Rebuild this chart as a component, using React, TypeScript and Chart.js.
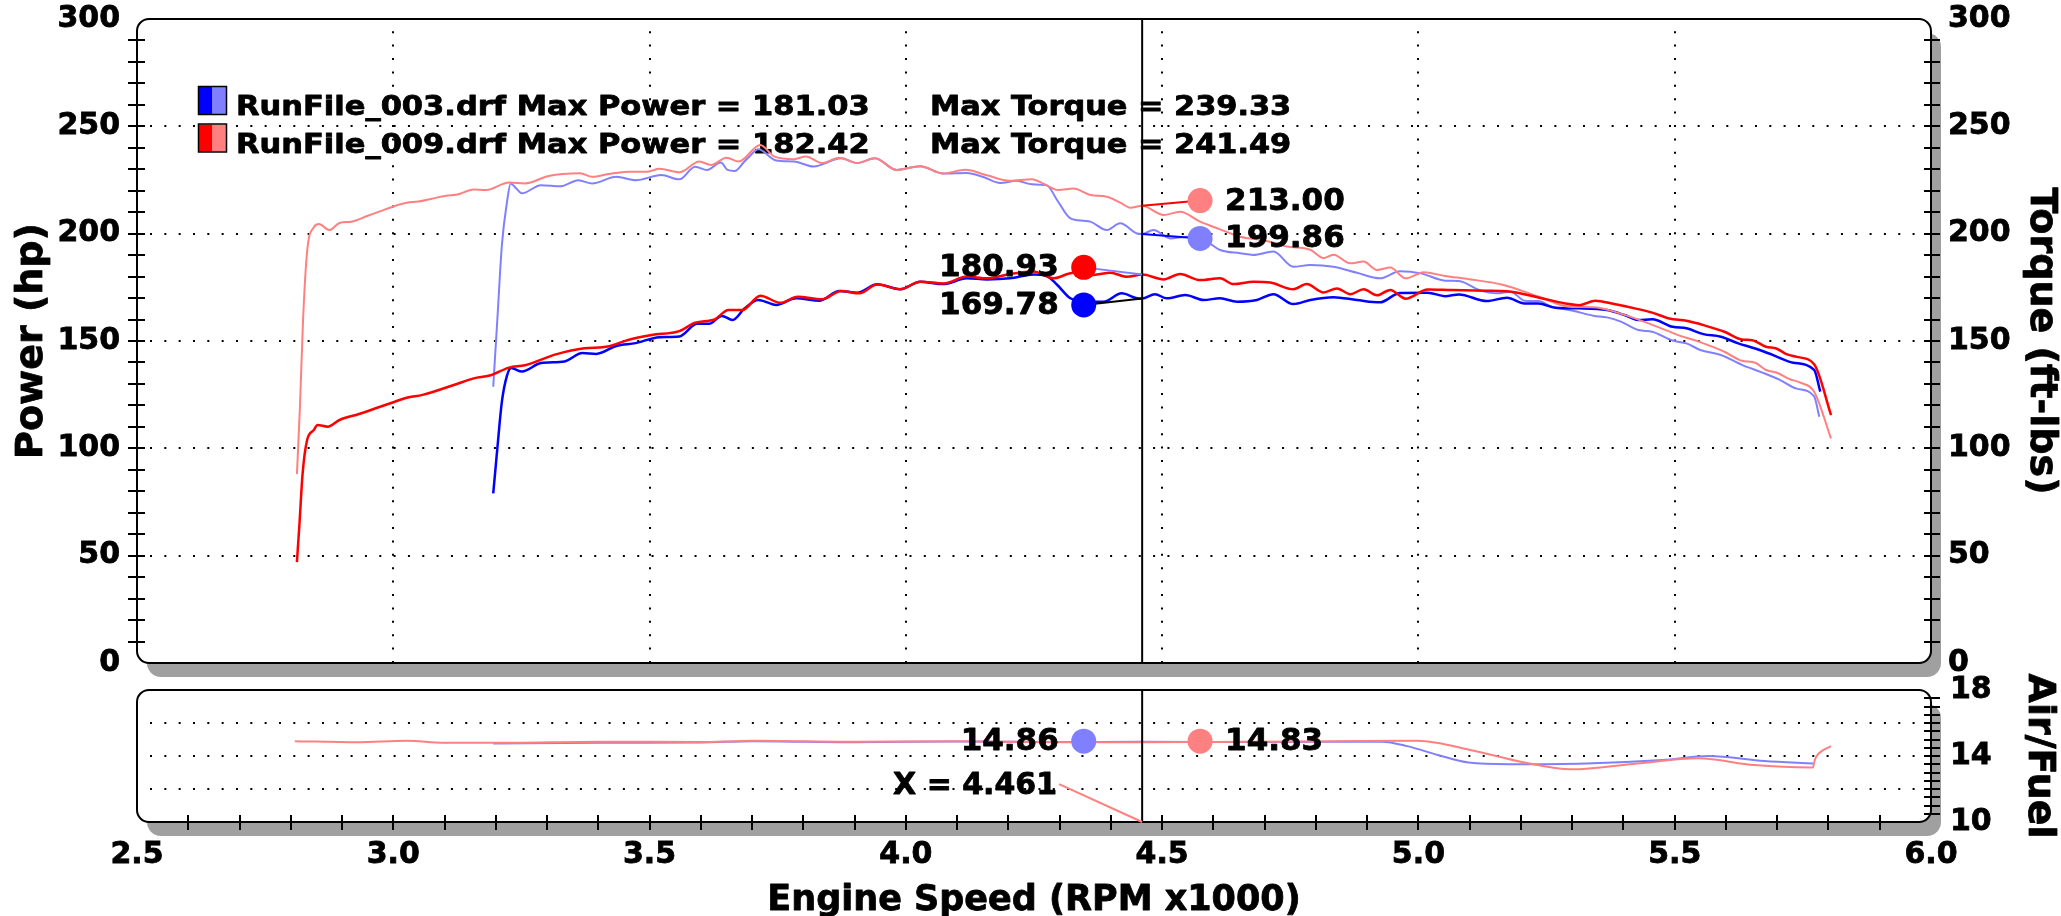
import React, { useEffect, useRef } from 'react';
import { Chart, registerables } from 'chart.js';

Chart.register(...registerables);

// ---------------- data ----------------
const runNames = ['RunFile_003.drf', 'RunFile_009.drf'];
const maxPowerText = ['181.03', '182.42'];
const maxTorqueText = ['239.33', '241.49'];

// Run 003 (blue) power, hp
const rpm003Hp = [3.195, 3.203, 3.212, 3.222, 3.23, 3.251, 3.288, 3.334, 3.369, 3.396, 3.435, 3.473, 3.519, 3.558, 3.593, 3.616, 3.641, 3.662, 3.685, 3.712, 3.747, 3.786, 3.832, 3.87, 3.905, 3.944, 3.989, 4.028, 4.073, 4.119, 4.158, 4.203, 4.249, 4.275, 4.295, 4.321, 4.353, 4.386, 4.421, 4.451, 4.461, 4.486, 4.509, 4.545, 4.581, 4.613, 4.646, 4.685, 4.717, 4.756, 4.789, 4.834, 4.88, 4.925, 4.964, 5.018, 5.052, 5.079, 5.133, 5.173, 5.207, 5.234, 5.267, 5.314, 5.368, 5.402, 5.429, 5.456, 5.496, 5.523, 5.556, 5.59, 5.624, 5.657, 5.691, 5.731, 5.772, 5.784];
const hp003 = [79, 100, 122, 134, 137.4, 135.8, 139.7, 140.5, 144.4, 144, 147.7, 149, 151.8, 152.1, 158, 158, 161.7, 159.8, 165.1, 169.1, 166.8, 169.9, 168.8, 173.3, 172.5, 176.4, 174.1, 177.6, 176.5, 179.2, 178.7, 179.2, 181.0, 180.3, 176.2, 169.9, 168.3, 168.3, 172.2, 169.9, 169.78, 171.8, 169.9, 171.4, 169.1, 169.9, 168.3, 169.1, 171.8, 167.2, 169.1, 170.4, 169.1, 168, 172.4, 172.5, 170.9, 171.7, 168.6, 170.2, 167.5, 167.5, 165.5, 165.2, 164.4, 162.1, 159.8, 160.1, 156.6, 155.9, 153.2, 152, 148.9, 146.5, 143.5, 139.9, 136.5, 126.4];

// Run 003 (light blue) torque, ft-lbs
const rpm003Tq = [3.195, 3.203, 3.212, 3.222, 3.229, 3.24, 3.251, 3.288, 3.327, 3.361, 3.388, 3.435, 3.473, 3.523, 3.558, 3.589, 3.612, 3.639, 3.652, 3.666, 3.685, 3.695, 3.712, 3.747, 3.782, 3.82, 3.874, 3.905, 3.94, 3.982, 4.028, 4.073, 4.119, 4.151, 4.184, 4.216, 4.246, 4.275, 4.295, 4.321, 4.347, 4.36, 4.392, 4.418, 4.451, 4.461, 4.483, 4.516, 4.548, 4.587, 4.613, 4.652, 4.678, 4.717, 4.756, 4.789, 4.834, 4.88, 4.925, 4.964, 5.005, 5.052, 5.079, 5.119, 5.153, 5.18, 5.207, 5.234, 5.26, 5.301, 5.341, 5.368, 5.395, 5.429, 5.456, 5.496, 5.523, 5.55, 5.59, 5.631, 5.671, 5.705, 5.738, 5.772, 5.782];
const tq003 = [128.7, 160, 195, 215, 223.4, 221, 218.8, 222.6, 222.1, 224.9, 223.4, 226.5, 224.9, 227.3, 225.3, 231.2, 229.7, 233.1, 229.7, 229.2, 233.6, 236, 239.3, 234.1, 233.6, 231.3, 235.1, 232.9, 235.1, 229.7, 231.4, 228, 228.3, 226.4, 223.6, 224.6, 223, 222.5, 215.7, 207.1, 206, 205.6, 201.7, 204.8, 200.1, 199.86, 201.7, 197.8, 198.6, 196.3, 192.4, 190.9, 190.1, 191.7, 184.6, 185.4, 184.6, 181.8, 179.2, 182.5, 181.5, 178.1, 177.9, 173.7, 172.2, 173, 168.8, 168.6, 166, 164.1, 161.8, 161, 159, 155.1, 154.3, 150.2, 148.9, 145.8, 143.5, 138.9, 135.3, 131.9, 127.8, 124.2, 114.7];

// Run 009 (red) power, hp
const rpm009Hp = [2.812, 2.817, 2.823, 2.832, 2.845, 2.852, 2.872, 2.895, 2.933, 2.97, 3.003, 3.026, 3.057, 3.118, 3.157, 3.188, 3.226, 3.257, 3.319, 3.373, 3.419, 3.458, 3.504, 3.558, 3.589, 3.627, 3.654, 3.681, 3.716, 3.755, 3.789, 3.836, 3.874, 3.909, 3.944, 3.989, 4.028, 4.073, 4.119, 4.158, 4.203, 4.249, 4.288, 4.327, 4.366, 4.399, 4.431, 4.461, 4.503, 4.535, 4.574, 4.613, 4.639, 4.678, 4.711, 4.756, 4.782, 4.815, 4.841, 4.867, 4.893, 4.919, 4.945, 4.975, 5.018, 5.065, 5.133, 5.173, 5.234, 5.287, 5.314, 5.345, 5.382, 5.422, 5.456, 5.489, 5.523, 5.556, 5.597, 5.631, 5.651, 5.678, 5.698, 5.718, 5.738, 5.772, 5.805];
const hp009 = [47, 65, 88, 104, 108.5, 110.9, 110.1, 113.2, 116, 119, 121.7, 123.6, 124.9, 129.5, 132.6, 133.9, 137.6, 138.7, 143.9, 146.6, 147.4, 150.5, 152.8, 154.6, 158.5, 160.1, 164.4, 164.4, 171.1, 167.8, 170.6, 169.4, 173.3, 172.2, 176.3, 174.1, 177.6, 176.8, 180, 179.2, 181.2, 182.4, 179.2, 181.8, 180.8, 181.8, 179.9, 180.93, 178.7, 181.2, 178.4, 179.2, 176.5, 177.6, 177.2, 174.1, 176.5, 172.6, 174.5, 171.8, 174.1, 171.3, 173.8, 169.7, 174, 173.7, 173.4, 173.2, 170.3, 167.5, 166.7, 168.8, 167.2, 165.2, 163.2, 160.5, 159.4, 157.4, 154.3, 150.7, 150.4, 147.3, 146.5, 143.9, 142.6, 139.2, 115.5];

// Run 009 (salmon) torque, ft-lbs
const rpm009Tq = [2.812, 2.818, 2.824, 2.832, 2.845, 2.855, 2.875, 2.895, 2.918, 2.949, 2.975, 3.003, 3.026, 3.049, 3.075, 3.103, 3.125, 3.157, 3.18, 3.226, 3.257, 3.303, 3.365, 3.388, 3.42, 3.458, 3.496, 3.519, 3.558, 3.597, 3.62, 3.65, 3.674, 3.716, 3.743, 3.782, 3.805, 3.836, 3.87, 3.905, 3.94, 3.982, 4.028, 4.073, 4.116, 4.158, 4.203, 4.246, 4.268, 4.298, 4.327, 4.36, 4.392, 4.418, 4.438, 4.461, 4.503, 4.535, 4.574, 4.613, 4.652, 4.704, 4.743, 4.789, 4.815, 4.834, 4.867, 4.893, 4.919, 4.945, 4.975, 5.01, 5.052, 5.099, 5.166, 5.234, 5.294, 5.341, 5.382, 5.449, 5.503, 5.556, 5.597, 5.631, 5.657, 5.678, 5.698, 5.725, 5.745, 5.772, 5.805];
const tq009 = [88, 120, 160, 192, 203, 204.5, 201.7, 205, 205.6, 208.2, 210.5, 212.9, 214.4, 215, 216.3, 217.7, 218.2, 220.6, 220.3, 223.8, 223.4, 226.9, 228.1, 226.5, 227.8, 228.9, 228.9, 230.2, 228.6, 233.6, 232, 235.4, 233.6, 241.3, 236, 234.7, 236, 232.9, 235.4, 232.9, 235.1, 229.7, 231.4, 228, 229.8, 227.2, 224.6, 225.3, 223.3, 220.3, 221, 218, 217.2, 214.5, 212.1, 213.0, 208.7, 210.2, 205.6, 202, 198.6, 196.6, 194, 192.5, 188.6, 190.2, 186.2, 187, 183.1, 184.2, 179.2, 182, 180.3, 178.8, 176.1, 170.7, 166, 165.7, 163.7, 158.2, 153.1, 148.9, 145, 140.8, 139.9, 136.5, 135.3, 132.2, 130.6, 126.4, 104.6];

// Air / fuel
const rpm003Afr = [3.195, 3.4, 3.6, 3.7, 3.9, 4.1, 4.3, 4.461, 4.7, 4.929, 4.978, 5.038, 5.098, 5.178, 5.327, 5.476, 5.566, 5.675, 5.77];
const afr003 = [14.75, 14.8, 14.82, 14.9, 14.84, 14.88, 14.85, 14.86, 14.85, 14.87, 14.6, 14.06, 13.6, 13.5, 13.55, 13.76, 14.0, 13.7, 13.55];
const rpm009Afr = [2.808, 2.929, 3.026, 3.098, 3.208, 3.4, 3.6, 3.7, 3.9, 4.1, 4.3, 4.461, 4.6, 4.8, 4.998, 5.108, 5.207, 5.297, 5.426, 5.546, 5.655, 5.765, 5.77, 5.772, 5.776, 5.787, 5.805];
const afr009 = [14.9, 14.83, 14.93, 14.8, 14.8, 14.87, 14.85, 14.92, 14.86, 14.9, 14.84, 14.83, 14.85, 14.88, 14.93, 14.32, 13.6, 13.19, 13.55, 13.86, 13.45, 13.3, 13.32, 13.6, 13.95, 14.3, 14.6];

// cursor read-outs
const cursorRpm = 4.461;
const cursorText = 'X = 4.461';
const mainReadValues = [180.93, 169.78, 213.0, 199.86];
const mainReadLabels = ['180.93', '169.78', '213.00', '199.86'];
const afrReadLabels = ['14.86', '14.83'];

// grid / tick values
const mainGridY = [50, 100, 150, 200, 250];
const mainGridX = [3.0, 3.5, 4.0, 4.5, 5.0, 5.5];
const afrGridY = [12, 14, 16];

// ---------------- styling ----------------
const FAMILY = '"DejaVu Sans", Verdana, sans-serif';
const BLUE = '#0000ff';
const LBLUE = '#8080ff';
const RED = '#ff0000';
const SALMON = '#ff8080';
const SHADOW = '#a0a0a0';
const TEXT_STROKE = 0.8;

const W = 2061;
const H = 916;
const A_H = 700;
const B_TOP = 660;
const B_H = H - B_TOP;

// marker placement (label dots next to the cursor)
const mainMarkers = [
  { rpm: 4.347, pos: 184.3, dot: RED, lead: LBLUE, left: true },
  { rpm: 4.347, pos: 166.8, dot: BLUE, lead: '#000', left: true },
  { rpm: 4.574, pos: 215.4, dot: SALMON, lead: RED, left: false },
  { rpm: 4.574, pos: 197.8, dot: LBLUE, lead: BLUE, left: false },
];
const afrMarkers = [
  { rpm: 4.347, pos: 14.9, dot: LBLUE, left: true },
  { rpm: 4.574, pos: 14.9, dot: SALMON, left: false },
];
const cursorLabelAnchor = { rpm: 4.299, pos: 12.3 };

const pts = (xs: number[], ys: number[]) => xs.map((x, i) => ({ x, y: ys[i] }));

function rr(ctx: CanvasRenderingContext2D, x: number, y: number, w: number, h: number, r: number) {
  ctx.beginPath();
  ctx.moveTo(x + r, y);
  ctx.lineTo(x + w - r, y);
  ctx.arcTo(x + w, y, x + w, y + r, r);
  ctx.lineTo(x + w, y + h - r);
  ctx.arcTo(x + w, y + h, x + w - r, y + h, r);
  ctx.lineTo(x + r, y + h);
  ctx.arcTo(x, y + h, x, y + h - r, r);
  ctx.lineTo(x, y + r);
  ctx.arcTo(x, y, x + r, y, r);
  ctx.closePath();
}

function panelBack(ctx: CanvasRenderingContext2D, a: any) {
  ctx.save();
  ctx.fillStyle = SHADOW;
  rr(ctx, a.left + 10, a.top + 14, a.right - a.left, a.bottom - a.top, 14);
  ctx.fill();
  ctx.fillStyle = '#fff';
  rr(ctx, a.left, a.top, a.right - a.left, a.bottom - a.top, 12);
  ctx.fill();
  ctx.restore();
}

function panelBorder(ctx: CanvasRenderingContext2D, a: any) {
  ctx.save();
  ctx.strokeStyle = '#000';
  ctx.lineWidth = 2;
  rr(ctx, a.left, a.top, a.right - a.left, a.bottom - a.top, 12);
  ctx.stroke();
  ctx.restore();
}

function seg(ctx: CanvasRenderingContext2D, x0: number, y0: number, x1: number, y1: number) {
  ctx.beginPath();
  ctx.moveTo(x0, y0);
  ctx.lineTo(x1, y1);
  ctx.stroke();
}

function paintText(ctx: CanvasRenderingContext2D, s: string, x: number, y: number) {
  ctx.fillStyle = '#000';
  ctx.strokeStyle = '#000';
  ctx.lineWidth = TEXT_STROKE;
  ctx.lineJoin = 'round';
  ctx.fillText(s, x, y);
  ctx.strokeText(s, x, y);
}

function label(ctx: CanvasRenderingContext2D, s: string, x: number, y: number, size: number, align: CanvasTextAlign) {
  ctx.save();
  ctx.font = `bold ${size}px ${FAMILY}`;
  ctx.textAlign = align;
  ctx.textBaseline = 'middle';
  paintText(ctx, s, x, y);
  ctx.restore();
}

function rotLabel(ctx: CanvasRenderingContext2D, s: string, cx: number, cy: number, size: number, angle: number) {
  ctx.save();
  ctx.translate(cx, cy);
  ctx.rotate(angle);
  ctx.font = `bold ${size}px ${FAMILY}`;
  ctx.textAlign = 'center';
  ctx.textBaseline = 'middle';
  paintText(ctx, s, 0, 0);
  ctx.restore();
}

function stretchText(ctx: CanvasRenderingContext2D, s: string, x: number, base: number, size: number, sx: number) {
  ctx.save();
  ctx.translate(x, base);
  ctx.scale(sx, 1);
  ctx.font = `bold ${size}px ${FAMILY}`;
  ctx.textAlign = 'left';
  ctx.textBaseline = 'alphabetic';
  paintText(ctx, s, 0, 0);
  ctx.restore();
}

function dot(ctx: CanvasRenderingContext2D, x: number, y: number, color: string) {
  ctx.save();
  ctx.fillStyle = color;
  ctx.beginPath();
  ctx.arc(x, y, 12.5, 0, Math.PI * 2);
  ctx.fill();
  ctx.restore();
}

const mainDecor = {
  id: 'mainDecor',
  beforeDraw(chart: any) {
    const { ctx, chartArea: a } = chart;
    const xs = chart.scales.x;
    const ys = chart.scales.y;
    panelBack(ctx, a);
    ctx.save();
    ctx.strokeStyle = '#000';
    ctx.lineWidth = 2;
    ctx.setLineDash([2, 12.33]);
    for (const v of mainGridY) {
      const py = Math.round(ys.getPixelForValue(v));
      seg(ctx, a.left + 13, py, a.right - 4, py);
    }
    ctx.setLineDash([2, 11.4]);
    for (const v of mainGridX) {
      const px = Math.round(xs.getPixelForValue(v));
      seg(ctx, px, a.bottom, px, a.top + 4);
    }
    ctx.restore();

    // legend
    const darks = [BLUE, RED];
    const lights = [LBLUE, SALMON];
    const bases = [115, 152.5];
    for (let i = 0; i < 2; i++) {
      const top = bases[i] - 28;
      ctx.save();
      ctx.fillStyle = darks[i];
      ctx.fillRect(199, top, 13.5, 27);
      ctx.fillStyle = lights[i];
      ctx.fillRect(212.5, top, 13.5, 27);
      ctx.strokeStyle = '#000';
      ctx.lineWidth = 1.5;
      ctx.strokeRect(198.5, top - 0.5, 28, 28);
      ctx.restore();
      stretchText(ctx, `${runNames[i]} Max Power = ${maxPowerText[i]}`, 236, bases[i], 27, 1.13);
      stretchText(ctx, `Max Torque = ${maxTorqueText[i]}`, 930, bases[i], 27, 1.125);
    }

    // axis titles
    const cy = (a.top + a.bottom) / 2;
    rotLabel(ctx, 'Power (hp)', 32, cy, 38, -Math.PI / 2);
    rotLabel(ctx, 'Torque (ft-lbs)', 2041, cy, 38, Math.PI / 2);
  },
  afterDatasetsDraw(chart: any) {
    const { ctx, chartArea: a } = chart;
    const xs = chart.scales.x;
    const ys = chart.scales.y;
    panelBorder(ctx, a);
    ctx.save();
    ctx.strokeStyle = '#000';
    ctx.lineWidth = 2;
    for (let v = 10; v < 300; v += 10) {
      const py = Math.round(ys.getPixelForValue(v));
      seg(ctx, a.left - 9, py, a.left + 8, py);
      seg(ctx, a.right - 7, py, a.right + 9, py);
    }
    // cursor
    const cx = xs.getPixelForValue(cursorRpm);
    seg(ctx, cx, a.top, cx, a.bottom);
    ctx.restore();

    mainMarkers.forEach((m, i) => {
      const mx = xs.getPixelForValue(m.rpm);
      const my = ys.getPixelForValue(m.pos);
      const vy = ys.getPixelForValue(mainReadValues[i]);
      ctx.save();
      ctx.strokeStyle = m.lead;
      ctx.lineWidth = 2;
      seg(ctx, mx, my, cx, vy);
      ctx.restore();
      dot(ctx, mx, my, m.dot);
      if (m.left) label(ctx, mainReadLabels[i], mx - 25, my + 1, 31, 'right');
      else label(ctx, mainReadLabels[i], mx + 25, my + 1, 31, 'left');
    });
  },
};

const afrDecor = {
  id: 'afrDecor',
  beforeDraw(chart: any) {
    const { ctx, chartArea: a } = chart;
    const ys = chart.scales.y;
    panelBack(ctx, a);
    ctx.save();
    ctx.strokeStyle = '#000';
    ctx.lineWidth = 2;
    ctx.setLineDash([2, 12.33]);
    for (const v of afrGridY) {
      const py = Math.round(ys.getPixelForValue(v));
      seg(ctx, a.left + 13, py, a.right - 4, py);
    }
    ctx.restore();
    rotLabel(ctx, 'Air/Fuel', 2039, 756 - B_TOP, 38, Math.PI / 2);
    ctx.save();
    ctx.font = `bold 35px ${FAMILY}`;
    ctx.textAlign = 'center';
    ctx.textBaseline = 'alphabetic';
    paintText(ctx, 'Engine Speed (RPM x1000)', (a.left + a.right) / 2, 910 - B_TOP);
    ctx.restore();
  },
  afterDatasetsDraw(chart: any) {
    const { ctx, chartArea: a } = chart;
    const xs = chart.scales.x;
    const ys = chart.scales.y;
    panelBorder(ctx, a);
    ctx.save();
    ctx.strokeStyle = '#000';
    ctx.lineWidth = 2;
    for (let v = 10.5; v < 18; v += 0.5) {
      const py = Math.round(ys.getPixelForValue(v));
      seg(ctx, a.right - 7, py, a.right + 9, py);
    }
    for (let k = 26; k < 60; k++) {
      const px = Math.round(xs.getPixelForValue(k / 10));
      seg(ctx, px, a.bottom - 7, px, a.bottom + 8);
    }
    const cx = xs.getPixelForValue(cursorRpm);
    seg(ctx, cx, a.top, cx, a.bottom);
    ctx.restore();

    // cursor x label
    const lx = xs.getPixelForValue(cursorLabelAnchor.rpm);
    const ly = ys.getPixelForValue(cursorLabelAnchor.pos);
    ctx.save();
    ctx.strokeStyle = SALMON;
    ctx.lineWidth = 2;
    seg(ctx, lx, ly, cx, a.bottom);
    ctx.restore();
    label(ctx, cursorText, lx - 2, ly + 2, 30, 'right');

    afrMarkers.forEach((m, i) => {
      const mx = xs.getPixelForValue(m.rpm);
      const my = ys.getPixelForValue(m.pos);
      dot(ctx, mx, my, m.dot);
      if (m.left) label(ctx, afrReadLabels[i], mx - 25, my + 1, 31, 'right');
      else label(ctx, afrReadLabels[i], mx + 25, my + 1, 31, 'left');
    });
  },
};

const tickFont = { family: FAMILY, size: 30, weight: 'bold' as const };

function tickOpts(extra: any) {
  return {
    font: tickFont,
    color: '#000',
    padding: 0,
    textStrokeColor: '#000',
    textStrokeWidth: TEXT_STROKE,
    ...extra,
  };
}

function lineDs(data: any[], color: string, width: number) {
  return {
    data,
    borderColor: color,
    backgroundColor: color,
    borderWidth: width,
    pointRadius: 0,
    fill: false,
    cubicInterpolationMode: 'monotone' as const,
  };
}

export default function App() {
  const aRef = useRef<HTMLCanvasElement>(null);
  const bRef = useRef<HTMLCanvasElement>(null);

  useEffect(() => {
    const chartA = new Chart(aRef.current as HTMLCanvasElement, {
      type: 'line',
      data: {
        datasets: [
          lineDs(pts(rpm009Hp, hp009), RED, 2.5),
          lineDs(pts(rpm009Tq, tq009), SALMON, 2),
          lineDs(pts(rpm003Hp, hp003), BLUE, 2.5),
          lineDs(pts(rpm003Tq, tq003), LBLUE, 2),
        ] as any,
      },
      options: {
        responsive: false,
        maintainAspectRatio: false,
        devicePixelRatio: 1,
        animation: false,
        events: [],
        layout: { padding: { top: 19, left: 0, right: 0, bottom: 0 } },
        plugins: { legend: { display: false }, tooltip: { enabled: false }, title: { display: false } },
        scales: {
          x: {
            type: 'linear',
            min: 2.5,
            max: 6,
            ticks: { display: false },
            grid: { display: false, drawTicks: false },
            border: { display: false },
            afterFit: (s: any) => { s.height = A_H - 663; },
          },
          y: {
            type: 'linear',
            position: 'left',
            min: 0,
            max: 300,
            ticks: tickOpts({ stepSize: 50 }),
            grid: { display: false, drawTicks: true, tickLength: 17 },
            border: { display: false },
            afterFit: (s: any) => { s.width = 137; },
          },
          y2: {
            type: 'linear',
            position: 'right',
            min: 0,
            max: 300,
            ticks: tickOpts({ stepSize: 50 }),
            grid: { display: false, drawTicks: true, tickLength: 17 },
            border: { display: false },
            afterFit: (s: any) => { s.width = W - 1931; },
          },
        },
      } as any,
      plugins: [mainDecor],
    });

    const chartB = new Chart(bRef.current as HTMLCanvasElement, {
      type: 'line',
      data: {
        datasets: [
          lineDs(pts(rpm009Afr, afr009), SALMON, 2),
          lineDs(pts(rpm003Afr, afr003), LBLUE, 2),
        ] as any,
      },
      options: {
        responsive: false,
        maintainAspectRatio: false,
        devicePixelRatio: 1,
        animation: false,
        events: [],
        layout: { padding: { top: 690 - B_TOP, left: 137, right: 0, bottom: 0 } },
        plugins: { legend: { display: false }, tooltip: { enabled: false }, title: { display: false } },
        scales: {
          x: {
            type: 'linear',
            min: 2.5,
            max: 6,
            ticks: tickOpts({
              stepSize: 0.5,
              maxRotation: 0,
              autoSkip: false,
              callback: (v: any) => Number(v).toFixed(1),
            }),
            grid: { display: false, drawTicks: true, tickLength: 15 },
            border: { display: false },
            afterFit: (s: any) => { s.height = B_H - (822 - B_TOP); },
          },
          y: {
            type: 'linear',
            position: 'right',
            min: 10,
            max: 18,
            ticks: tickOpts({ stepSize: 2 }),
            grid: { display: false, drawTicks: true, tickLength: 19 },
            border: { display: false },
            afterFit: (s: any) => { s.width = W - 1931; },
          },
        },
      } as any,
      plugins: [afrDecor],
    });

    return () => {
      chartA.destroy();
      chartB.destroy();
    };
  }, []);

  return (
    <div style={{ position: 'absolute', left: 0, top: 0, width: W, height: H, background: '#fff', overflow: 'hidden' }}>
      <canvas
        ref={aRef}
        width={W}
        height={A_H}
        style={{ position: 'absolute', left: 0, top: 0, width: W, height: A_H }}
      />
      <canvas
        ref={bRef}
        width={W}
        height={B_H}
        style={{ position: 'absolute', left: 0, top: B_TOP, width: W, height: B_H }}
      />
    </div>
  );
}
